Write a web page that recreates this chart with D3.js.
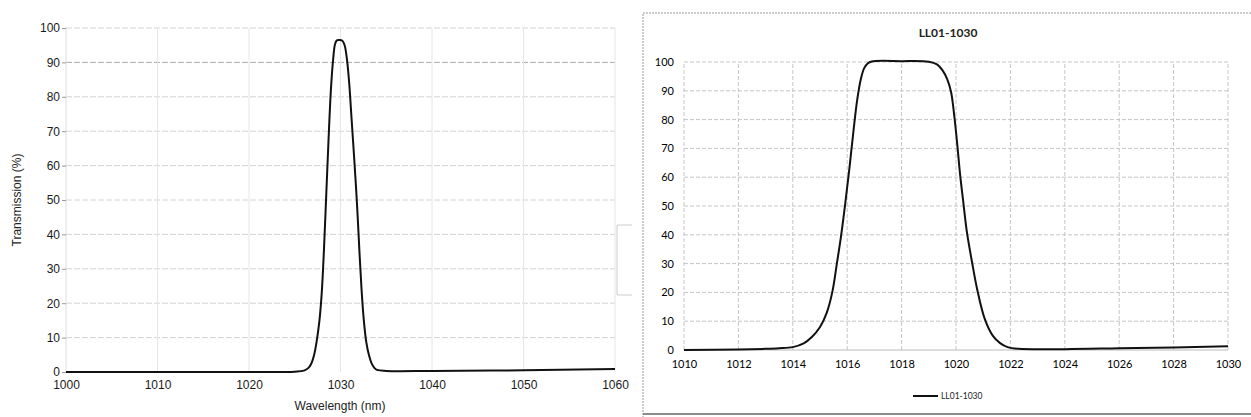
<!DOCTYPE html>
<meta charset="utf-8" />
<style>
  body { margin: 0; background: #fff; }
  svg { display: block; }
  .grid line { stroke: #d4d4d4; stroke-dasharray: 6,2; }
  .gridR line { stroke: #c6c6c6; stroke-dasharray: 4,2; }
  .axL text { font-family: "Liberation Sans", Arial, sans-serif; font-size: 12px; fill: #1a1a1a; }
  .axR text { font-family: Lato, "Open Sans", sans-serif; font-size: 11px; fill: #000; }
  .curve { fill: none; stroke: #111; stroke-width: 2; stroke-linejoin: round; }
</style>
<body>
<div id="chart"></div>
<script src="https://cdn.jsdelivr.net/npm/d3@7"></script>
<script>
  // left chart: measured filter, 1000-1060 nm
  const leftWl = [1000, 1010, 1020, 1025, 1026, 1026.5, 1026.8, 1027.1, 1027.4, 1027.7, 1027.95, 1028.2, 1028.45,
    1028.7, 1028.95, 1029.2, 1029.4, 1029.6, 1029.9, 1030.2, 1030.45, 1030.7, 1030.95, 1031.2, 1031.5, 1031.8,
    1032.05, 1032.3, 1032.55, 1032.8, 1033.1, 1033.4, 1033.7, 1034.0, 1035, 1040, 1050, 1060];
  const leftT = [0, 0, 0, 0.1, 0.4, 1.2, 2.4, 4.8, 9, 15, 23, 36, 52,
    68, 82, 91, 95.3, 96.4, 96.5, 96.3, 95, 91, 84, 74, 62, 49,
    36, 24, 15, 9, 5, 2.5, 1.2, 0.6, 0.3, 0.3, 0.5, 0.9];
  const leftXTicks = [1000, 1010, 1020, 1030, 1040, 1050, 1060];
  const leftYTicks = [0, 10, 20, 30, 40, 50, 60, 70, 80, 90, 100];

  // right chart: LL01-1030, 1010-1030 nm
  const rightWl = [1010, 1012, 1013, 1013.5, 1014, 1014.4, 1014.7, 1015.0, 1015.25, 1015.45, 1015.62, 1015.78,
    1015.93, 1016.08, 1016.23, 1016.37, 1016.5, 1016.62, 1016.75, 1016.9, 1018, 1019.0, 1019.3, 1019.5,
    1019.68, 1019.82, 1019.94, 1020.05, 1020.15, 1020.26, 1020.4, 1020.58, 1020.78, 1021.05, 1021.35, 1021.62,
    1021.9, 1022.3, 1024, 1026, 1028, 1030];
  const rightT = [0, 0.2, 0.4, 0.6, 1, 2.3, 4.5, 8, 13, 20, 30, 40,
    51, 63, 76, 87, 94, 97.8, 99.5, 100.2, 100.3, 100.1, 99.2, 97.2,
    94, 89.5, 81, 71, 61, 52, 41, 31, 21, 11, 5, 2.4,
    1, 0.4, 0.3, 0.6, 0.9, 1.3];
  const rightXTicks = [1010, 1012, 1014, 1016, 1018, 1020, 1022, 1024, 1026, 1028, 1030];
  const rightYTicks = [0, 10, 20, 30, 40, 50, 60, 70, 80, 90, 100];
  const seriesName = "LL01-1030";

  const svg = d3.select("#chart").append("svg").attr("width", 1251).attr("height", 417);
  const fmt = d3.format("d");

  // ---- left chart ----
  const xL = d3.scaleLinear().domain([1000, 1060]).range([66, 615]);
  const yL = d3.scaleLinear().domain([0, 100]).range([372, 28]);

  const gL = svg.append("g");
  gL.append("g").attr("class", "grid")
    .selectAll("line").data(leftYTicks.slice(1)).join("line")
    .attr("x1", xL(1000)).attr("x2", xL(1060))
    .attr("y1", d => yL(d)).attr("y2", d => yL(d))
    .style("stroke", d => d === 90 ? "#aaa" : null);
  gL.append("g").attr("class", "grid")
    .selectAll("line").data(leftXTicks.slice(1)).join("line")
    .attr("x1", d => xL(d)).attr("x2", d => xL(d))
    .attr("y1", yL(0)).attr("y2", yL(100))
    .style("stroke-dasharray", "none").style("stroke", "#e6e6e6");
  gL.append("line").attr("x1", xL(1000)).attr("x2", xL(1000))
    .attr("y1", yL(0)).attr("y2", yL(100)).attr("stroke", "#ddd");

  gL.append("g").attr("class", "axL").attr("transform", `translate(0,${yL(0) + 2})`)
    .call(d3.axisBottom(xL).tickValues(leftXTicks).tickFormat(fmt).tickSize(0).tickPadding(6))
    .call(g => g.select(".domain").remove());
  gL.append("g").attr("class", "axL").attr("transform", `translate(${xL(1000)},0)`)
    .call(d3.axisLeft(yL).tickValues(leftYTicks).tickFormat(fmt).tickSize(4).tickPadding(2))
    .call(g => g.select(".domain").remove())
    .call(g => g.selectAll(".tick line").attr("stroke", "#999"));

  gL.append("text").attr("x", 340).attr("y", 410).attr("text-anchor", "middle")
    .style("font-family", "Liberation Sans, Arial, sans-serif").style("font-size", "12px").style("fill", "#222")
    .text("Wavelength (nm)");
  gL.append("text").attr("transform", "translate(21,200) rotate(-90)").attr("text-anchor", "middle")
    .style("font-family", "Liberation Sans, Arial, sans-serif").style("font-size", "12px").style("fill", "#222")
    .text("Transmission (%)");

  const lineL = d3.line().x(d => xL(d[0])).y(d => yL(d[1])).curve(d3.curveCatmullRom.alpha(0.5));
  gL.append("path").attr("class", "curve").attr("d", lineL(d3.zip(leftWl, leftT)));

  // faint legend box remnant of the left chart
  svg.append("path").attr("d", "M632,225 H617 V295 H632").attr("fill", "none").attr("stroke", "#ccc");

  // ---- right chart ----
  svg.append("path").attr("d", "M1251,13 H643 V417").attr("fill", "none")
    .attr("stroke", "#999").attr("stroke-dasharray", "2,1");
  svg.append("line").attr("x1", 643).attr("x2", 1251).attr("y1", 414).attr("y2", 414)
    .attr("stroke", "#666").attr("stroke-width", 1.5);

  const xR = d3.scaleLinear().domain([1010, 1030]).range([684, 1228]);
  const yR = d3.scaleLinear().domain([0, 100]).range([350, 62]);
  const gR = svg.append("g");

  gR.append("g").attr("class", "gridR")
    .selectAll("line").data(rightYTicks.slice(1)).join("line")
    .attr("x1", xR(1010)).attr("x2", xR(1030))
    .attr("y1", d => yR(d)).attr("y2", d => yR(d));
  gR.append("g").attr("class", "gridR")
    .selectAll("line").data(rightXTicks).join("line")
    .attr("x1", d => xR(d)).attr("x2", d => xR(d))
    .attr("y1", yR(0)).attr("y2", yR(100));
  gR.append("line").attr("x1", xR(1010)).attr("x2", xR(1030))
    .attr("y1", yR(0)).attr("y2", yR(0)).attr("stroke", "#bbb");

  gR.append("g").attr("class", "axR").attr("transform", `translate(0,${yR(0) + 4})`)
    .call(d3.axisBottom(xR).tickValues(rightXTicks).tickFormat(fmt).tickSize(0).tickPadding(6))
    .call(g => g.select(".domain").remove());
  gR.append("g").attr("class", "axR").attr("transform", `translate(${xR(1010) - 10},0)`)
    .call(d3.axisLeft(yR).tickValues(rightYTicks).tickFormat(fmt).tickSize(0).tickPadding(0))
    .call(g => g.select(".domain").remove());

  gR.append("text").attr("x", 948).attr("y", 37).attr("text-anchor", "middle")
    .style("font-family", "Lato, sans-serif").style("font-size", "12px").style("font-weight", "bold").style("fill", "#222")
    .text(seriesName);

  const lineR = d3.line().x(d => xR(d[0])).y(d => yR(d[1])).curve(d3.curveCatmullRom.alpha(0.5));
  gR.append("path").attr("class", "curve").attr("d", lineR(d3.zip(rightWl, rightT)));

  // legend
  gR.append("line").attr("x1", 913).attr("x2", 938).attr("y1", 396).attr("y2", 396)
    .attr("stroke", "#111").attr("stroke-width", 2);
  gR.append("text").attr("x", 941).attr("y", 399)
    .style("font-family", "Lato, sans-serif").style("font-size", "8.5px").style("fill", "#222")
    .text(seriesName);
</script>
</body>
